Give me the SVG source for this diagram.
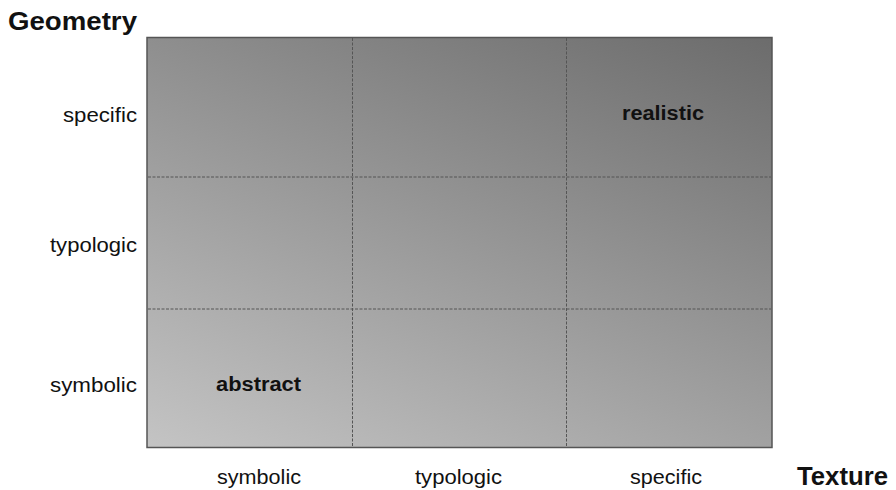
<svg xmlns="http://www.w3.org/2000/svg" width="896" height="490" viewBox="0 0 896 490">
<defs>
<linearGradient id="bg" x1="0" y1="1" x2="0.744" y2="-0.164">
<stop offset="0" stop-color="#c4c4c4"/>
<stop offset="1" stop-color="#6c6c6c"/>
</linearGradient>
</defs>
<style>
.t{font-family:"Liberation Sans",Arial,sans-serif;fill:#111;}
.lbl{font-size:20px;}
.b{font-weight:bold;}
.big{font-size:25px;font-weight:bold;}
.grid{stroke:#555;stroke-width:1;stroke-dasharray:3 1.5;fill:none;}
</style>
<rect width="896" height="490" fill="#fff"/>
<g id="chart">
<rect x="147" y="37.5" width="625" height="410" fill="url(#bg)" stroke="#555" stroke-width="1.5"/>
</g>
<g id="connectors">
<line class="grid" x1="352.5" y1="38" x2="352.5" y2="447"/>
<line class="grid" x1="566.5" y1="38" x2="566.5" y2="447"/>
<line class="grid" x1="148" y1="177" x2="771" y2="177"/>
<line class="grid" x1="148" y1="309" x2="771" y2="309"/>
</g>
<g id="axis-titles">
<text class="t big" x="8" y="29.5" textLength="129" lengthAdjust="spacingAndGlyphs">Geometry</text>
<text class="t big" x="797" y="485" textLength="91" lengthAdjust="spacingAndGlyphs">Texture</text>
</g>
<g id="row-labels">
<text class="t lbl" x="63" y="121.5" textLength="74" lengthAdjust="spacingAndGlyphs">specific</text>
<text class="t lbl" x="50" y="251.5" textLength="87" lengthAdjust="spacingAndGlyphs">typologic</text>
<text class="t lbl" x="50" y="391.5" textLength="87" lengthAdjust="spacingAndGlyphs">symbolic</text>
</g>
<g id="col-labels">
<text class="t lbl" x="217" y="483.5" textLength="84" lengthAdjust="spacingAndGlyphs">symbolic</text>
<text class="t lbl" x="415" y="483.5" textLength="87" lengthAdjust="spacingAndGlyphs">typologic</text>
<text class="t lbl" x="630" y="483.5" textLength="72" lengthAdjust="spacingAndGlyphs">specific</text>
</g>
<g id="realistic">
<text class="t lbl b" x="622" y="120" textLength="82" lengthAdjust="spacingAndGlyphs">realistic</text>
</g>
<g id="abstract">
<text class="t lbl b" x="216" y="391" textLength="85" lengthAdjust="spacingAndGlyphs">abstract</text>
</g>
</svg>
